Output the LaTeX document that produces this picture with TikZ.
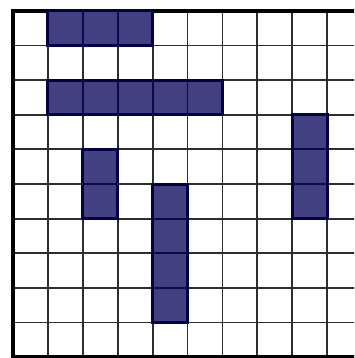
\documentclass[tikz,border=0pt]{standalone}
\definecolor{blockfill}{RGB}{66,64,128}
\definecolor{blockedge}{RGB}{2,0,70}
\definecolor{gridcol}{RGB}{45,45,45}
\tikzset{
  gridline/.style={draw=gridcol, line width=1.8pt},
  outer/.style={draw=black, line width=3.4pt},
  blockbox/.style={fill=blockfill, draw=blockedge, line width=3pt, line join=miter},
  innerline/.style={draw=blockedge!85!blockfill, line width=1.8pt}
}
\newcommand\gblock[4]{%
  % #1 column, #2 row, #3 width in cells, #4 height in cells
  \path[blockbox] ({13+34.9*#1},{11+34.6*#2}) rectangle ({13+34.9*(#1+#3)},{11+34.6*(#2+#4)});
  \ifnum#3>1
    \foreach \k in {1,...,\numexpr#3-1\relax}{\draw[innerline] ({13+34.9*(#1+\k)},{11+34.6*#2}) -- ({13+34.9*(#1+\k)},{11+34.6*(#2+#4)});}
  \fi
  \ifnum#4>1
    \foreach \k in {1,...,\numexpr#4-1\relax}{\draw[innerline] ({13+34.9*#1},{11+34.6*(#2+\k)}) -- ({13+34.9*(#1+#3)},{11+34.6*(#2+\k)});}
  \fi
}
\begin{document}
\begin{tikzpicture}[x=1pt,y=-1pt]
\useasboundingbox (0,0) rectangle (354,358);
\fill[white] (0,0) rectangle (354,358);
\clip (0,0) rectangle (354,358);
\foreach \i in {1,...,10}{\draw[gridline] ({13+34.9*\i},11) -- ({13+34.9*\i},357);}
\foreach \j in {1,...,9}{\draw[gridline] (13,{11+34.6*\j}) -- (370,{11+34.6*\j});}
\draw[outer] (370,11) -- (13,11) -- (13,357) -- (370,357);
\gblock{1}{0}{3}{1}
\gblock{1}{2}{5}{1}
\gblock{8}{3}{1}{3}
\gblock{2}{4}{1}{2}
\gblock{4}{5}{1}{4}
\end{tikzpicture}
\end{document}
